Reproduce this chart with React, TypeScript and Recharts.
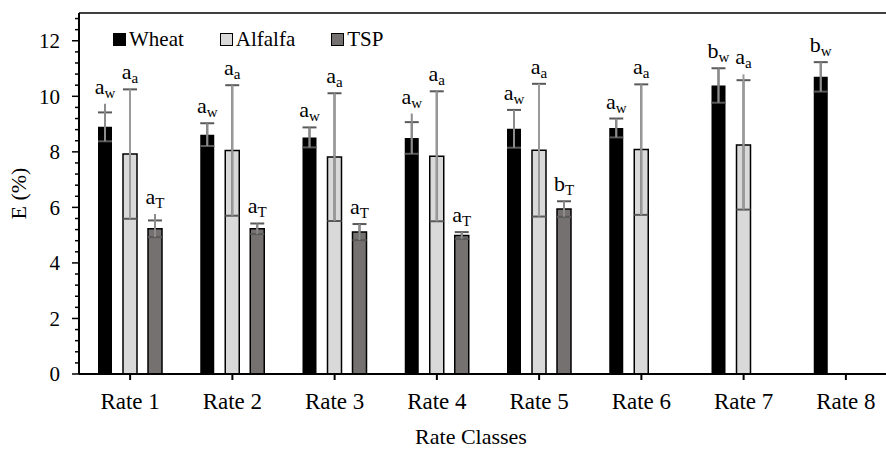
import React from 'react';
import { BarChart, Bar, XAxis, YAxis, ErrorBar, LabelList, Legend, ReferenceLine } from 'recharts';

const FONT = '"Liberation Serif", "Times New Roman", serif';

const categories = ['Rate 1', 'Rate 2', 'Rate 3', 'Rate 4', 'Rate 5', 'Rate 6', 'Rate 7', 'Rate 8'];

const wheatMean = [8.9, 8.62, 8.52, 8.5, 8.83, 8.86, 10.39, 10.7];
const wheatErr = [0.52, 0.41, 0.36, 0.57, 0.68, 0.34, 0.62, 0.53];
const wheatStemTop = [9.73, null, null, 9.38, null, null, null, null];
const wheatLetters = ['a', 'a', 'a', 'a', 'a', 'a', 'b', 'b'];

const alfalfaMean = [7.92, 8.05, 7.81, 7.84, 8.06, 8.08, 8.25, null];
const alfalfaErr = [2.33, 2.35, 2.3, 2.34, 2.39, 2.35, 2.33, null];
const alfalfaStemTop = [null, null, null, null, null, null, 10.79, null];
const alfalfaLetters = ['a', 'a', 'a', 'a', 'a', 'a', 'a', null];

const tspMean = [5.23, 5.23, 5.11, 4.99, 5.94, null, null, null];
const tspErr = [0.3, 0.19, 0.29, 0.12, 0.28, null, null, null];
const tspStemTop = [5.76, null, null, null, null, null, null, null];
const tspLetters = ['a', 'a', 'a', 'a', 'b', null, null, null];

const majorTicks = [0, 2, 4, 6, 8, 10, 12];
const minorStep = 0.4;
const yMax = 13;

const allTicks: number[] = [];
for (let i = 0; i * minorStep <= 12.8 + 1e-9; i++) {
  allTicks.push(Math.round(i * minorStep * 10) / 10);
}

const stemRange = (mean: (number | null)[], err: (number | null)[], stem: (number | null)[], i: number) => {
  const m = mean[i];
  const e = err[i];
  if (m == null || e == null) return null;
  const s = stem[i];
  if (s != null) return [e, s - m];
  return [e, e];
};

const data = categories.map((c, i) => ({
  name: c,
  wheat: wheatMean[i],
  wheatErr: wheatErr[i],
  wheatStem: stemRange(wheatMean, wheatErr, wheatStemTop, i),
  alfalfa: alfalfaMean[i],
  alfalfaErr: alfalfaErr[i],
  alfalfaStem: stemRange(alfalfaMean, alfalfaErr, alfalfaStemTop, i),
  tsp: tspMean[i],
  tspErr: tspErr[i],
  tspStem: stemRange(tspMean, tspErr, tspStemTop, i),
}));

const makeLabel = (
  mean: (number | null)[],
  err: (number | null)[],
  stem: (number | null)[],
  letters: (string | null)[],
  sub: string
) => (props: any) => {
  const idx = props.index;
  const m = mean[idx];
  const e = err[idx];
  const letter = letters[idx];
  if (m == null || e == null || letter == null) return null;
  const vb = props.viewBox || props;
  const x = Number(vb.x);
  const y = Number(vb.y);
  const w = Number(vb.width);
  const h = Number(vb.height);
  const top = Math.min(y, y + h);
  const ppu = Math.abs(h) / m;
  const s = stem[idx];
  const topVal = Math.max(m + e, s != null ? s : -Infinity);
  const ly = top - (topVal - m) * ppu - 10;
  return (
    <text x={x + w / 2} y={ly} textAnchor="middle" fontFamily={FONT} fill="#000">
      <tspan fontSize={22}>{letter}</tspan>
      <tspan fontSize={15} dy={4}>{sub}</tspan>
    </text>
  );
};

const YTick = (props: any) => {
  const { x, y, payload } = props;
  const v = Number(payload.value);
  const major = majorTicks.some((t) => Math.abs(t - v) < 1e-6);
  return (
    <g>
      <line x1={x - (major ? 7 : 4)} x2={x} y1={y} y2={y} stroke="#000" strokeWidth={1.5} />
      {major && (
        <text x={x - 19} y={y} dy="0.35em" textAnchor="end" fontFamily={FONT} fontSize={21} fill="#000">
          {v}
        </text>
      )}
    </g>
  );
};

const legendItems = [
  { label: 'Wheat', fill: '#000000' },
  { label: 'Alfalfa', fill: '#d9d9d9' },
  { label: 'TSP', fill: '#767171' },
];

const LegendContent = () => (
  <div style={{ display: 'flex', fontFamily: FONT, fontSize: 21, lineHeight: '21px', color: '#000' }}>
    {legendItems.map((it) => (
      <div key={it.label} style={{ display: 'flex', alignItems: 'center', marginRight: 36 }}>
        <span
          style={{
            display: 'inline-block',
            width: 11,
            height: 11,
            background: it.fill,
            border: '1.5px solid #000',
            marginRight: 3,
          }}
        />
        <span>{it.label}</span>
      </div>
    ))}
  </div>
);

export default function App() {
  return (
    <div style={{ position: 'absolute', left: 0, top: 0, width: 886, height: 450, overflow: 'hidden', background: '#fff' }}>
      <BarChart
        width={900}
        height={450}
        data={data}
        margin={{ top: 13, right: 3, left: 0, bottom: 0 }}
        barSize={14}
        barGap={11}
      >
        <XAxis
          dataKey="name"
          height={76}
          stroke="#000"
          strokeWidth={2}
          tickSize={6}
          tickMargin={13}
          tick={{ fill: '#000', fontSize: 23, fontFamily: FONT }}
          interval={0}
          label={{
            content: (p: any) => {
              const vb = p.viewBox;
              return (
                <text
                  x={vb.x + vb.width / 2 - 17}
                  y={vb.y + 70}
                  textAnchor="middle"
                  fontFamily={FONT}
                  fontSize={22}
                  fill="#000"
                >
                  Rate Classes
                </text>
              );
            },
          }}
        />
        <YAxis
          width={79}
          domain={[0, yMax]}
          ticks={allTicks}
          interval={0}
          stroke="#000"
          strokeWidth={2}
          tickSize={0}
          tickMargin={0}
          tickLine={false}
          tick={<YTick />}
          label={{
            content: (p: any) => {
              const vb = p.viewBox;
              const cy = vb.y + vb.height / 2;
              return (
                <text
                  x={26}
                  y={cy}
                  textAnchor="middle"
                  transform={`rotate(-90, 26, ${cy})`}
                  fontFamily={FONT}
                  fontSize={22}
                  fill="#000"
                >
                  E (%)
                </text>
              );
            },
          }}
        />
        <ReferenceLine y={yMax} stroke="#000" strokeWidth={1.5} />
        <Legend
          verticalAlign="middle"
          layout="horizontal"
          content={<LegendContent />}
          wrapperStyle={{ left: 113, top: 29, width: 'auto' }}
        />
        <Bar dataKey="wheat" fill="#000000" isAnimationActive={false}>
          <ErrorBar dataKey="wheatErr" width={7} stroke="#595959" strokeWidth={2} />
          <ErrorBar dataKey="wheatStem" width={0} stroke="#8c8c8c" strokeWidth={2} />
          <LabelList dataKey="wheat" content={makeLabel(wheatMean, wheatErr, wheatStemTop, wheatLetters, 'w')} />
        </Bar>
        <Bar dataKey="alfalfa" fill="#d9d9d9" stroke="#000" strokeWidth={1.5} isAnimationActive={false}>
          <ErrorBar dataKey="alfalfaErr" width={7} stroke="#595959" strokeWidth={2} />
          <ErrorBar dataKey="alfalfaStem" width={0} stroke="#9a9a9a" strokeWidth={2} />
          <LabelList dataKey="alfalfa" content={makeLabel(alfalfaMean, alfalfaErr, alfalfaStemTop, alfalfaLetters, 'a')} />
        </Bar>
        <Bar dataKey="tsp" fill="#767171" stroke="#000" strokeWidth={1.5} isAnimationActive={false}>
          <ErrorBar dataKey="tspErr" width={7} stroke="#595959" strokeWidth={2} />
          <ErrorBar dataKey="tspStem" width={0} stroke="#8c8c8c" strokeWidth={2} />
          <LabelList dataKey="tsp" content={makeLabel(tspMean, tspErr, tspStemTop, tspLetters, 'T')} />
        </Bar>
      </BarChart>
    </div>
  );
}
